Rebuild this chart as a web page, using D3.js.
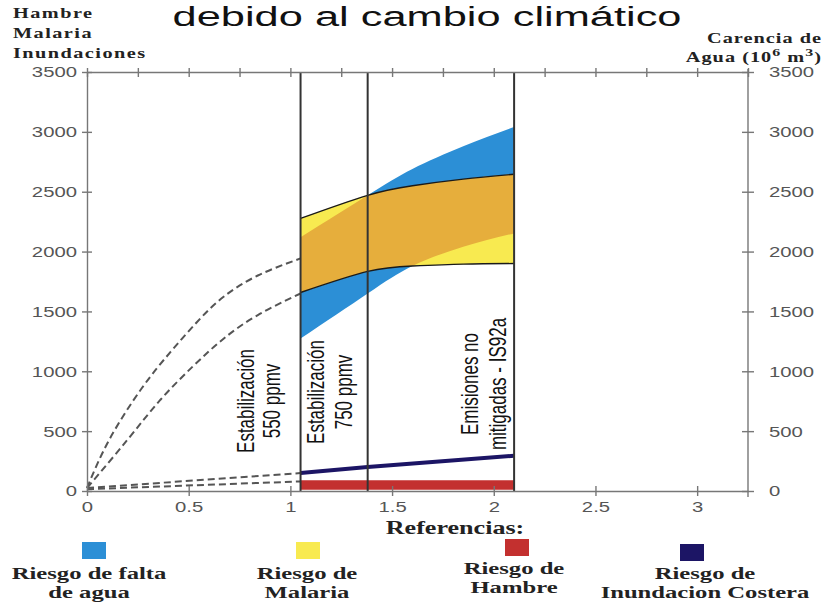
<!DOCTYPE html>
<html>
<head>
<meta charset="utf-8">
<script src="https://cdn.jsdelivr.net/npm/d3@7"></script>
<style>
  body { margin: 0; background: #fff; }
  svg { display: block; }
</style>
</head>
<body>
<script>
// datos
var xTicks = [0, 0.5, 1, 1.5, 2, 2.5, 3];
var topTicks = [0, 0.25, 0.5, 0.75, 1, 1.25, 1.5, 1.75, 2, 2.25, 2.5, 2.75, 3, 3.25];
var yTicks = [0, 500, 1000, 1500, 2000, 2500, 3000, 3500];

var escenariosX = [1.05, 1.38, 2.1];
var escenariosTxt = [["Estabilización", "550 ppmv"], ["Estabilización", "750 ppmv"], ["Emisiones no", "mitigadas - IS92a"]];

var bandaX = [1.05, 1.38, 1.6, 1.85, 2.1];
var aguaBaja = [1273, 1650, 1880, 2040, 2152];
var aguaAlta = [2120, 2470, 2690, 2880, 3040];
var malariaBaja = [1658, 1834, 1880, 1895, 1900];
var malariaAlta = [2277, 2470, 2550, 2605, 2646];

var inundX = [1.05, 1.38, 2.1];
var inundVal = [150, 200, 295];
var hambreX = [1.05, 2.1];
var hambreBaja = [10, 10];
var hambreAlta = [90, 90];

var curvaAltaX = [0, 0.11, 0.27, 0.41, 0.54, 0.67, 0.84, 1.05];
var curvaAltaV = [25, 430, 860, 1160, 1410, 1620, 1800, 1943];
var curvaBajaX = [0, 0.2, 0.36, 0.52, 0.67, 0.84, 1.05];
var curvaBajaV = [25, 430, 760, 1040, 1270, 1470, 1650];
var rectasX = [0, 1.05];
var rectaInund = [25, 150];
var rectaHambre = [15, 80];

var leyNombres = [["Riesgo de falta", "de agua"], ["Riesgo de", "Malaria"], ["Riesgo de", "Hambre"], ["Riesgo de", "Inundacion Costera"]];
var leyColores = ["#2c8fd6", "#f8ea50", "#c3302f", "#1c1565"];

var SX = 1.45; // la imagen original esta estirada en horizontal

var svg = d3.select("body").append("svg")
    .attr("width", 827)
    .attr("height", 603);

var x = d3.scaleLinear().domain([0, 3.25]).range([87, 748]);
var y = d3.scaleLinear().domain([0, 3500]).range([491, 72]);

function zip(xs, ys) { return xs.map(function(v, i) { return [v, ys[i]]; }); }
function zip3(xs, a, b) { return xs.map(function(v, i) { return [v, a[i], b[i]]; }); }

function texto(g, px, py, str, size, fam, weight, anchor, fill, ls, sx) {
  return g.append("text")
    .attr("transform", "translate(" + px + "," + py + ") scale(" + (sx || SX) + ",1)")
    .attr("font-family", fam)
    .attr("font-size", size)
    .attr("font-weight", weight)
    .attr("text-anchor", anchor)
    .attr("letter-spacing", ls || 0)
    .attr("fill", fill)
    .text(str);
}

var serif = "'Liberation Serif', 'Times New Roman', serif";
var sans = "'Liberation Sans', Arial, sans-serif";

var area = d3.area()
    .x(function(d) { return x(d[0]); })
    .y0(function(d) { return y(d[1]); })
    .y1(function(d) { return y(d[2]); })
    .curve(d3.curveNatural);
var linea = d3.line()
    .x(function(d) { return x(d[0]); })
    .y(function(d) { return y(d[1]); })
    .curve(d3.curveNatural);

var agua = zip3(bandaX, aguaBaja, aguaAlta);
var malaria = zip3(bandaX, malariaBaja, malariaAlta);

svg.append("defs").append("clipPath").attr("id", "clipMalaria")
  .append("path").attr("d", area(malaria));

svg.append("path").attr("d", area(agua)).attr("fill", "#2c8fd6");
svg.append("path").attr("d", area(malaria)).attr("fill", "#f8ea50");
svg.append("path").attr("d", area(agua)).attr("fill", "#e6ae3c").attr("clip-path", "url(#clipMalaria)");

svg.append("path").attr("d", linea(zip(bandaX, malariaAlta))).attr("fill", "none").attr("stroke", "#1a1a1a").attr("stroke-width", 1.4);
svg.append("path").attr("d", linea(zip(bandaX, malariaBaja))).attr("fill", "none").attr("stroke", "#1a1a1a").attr("stroke-width", 1.4);

svg.append("path").attr("d", area(zip3(hambreX, hambreBaja, hambreAlta))).attr("fill", "#c3302f");

[zip(curvaAltaX, curvaAltaV), zip(curvaBajaX, curvaBajaV), zip(rectasX, rectaInund), zip(rectasX, rectaHambre)].forEach(function(pts) {
  svg.append("path").attr("d", linea(pts))
    .attr("fill", "none")
    .attr("stroke", "#555")
    .attr("stroke-width", 2)
    .attr("stroke-dasharray", "7,4");
});

svg.append("path").attr("d", linea.curve(d3.curveLinear)(zip(inundX, inundVal)))
  .attr("fill", "none").attr("stroke", "#1c1565").attr("stroke-width", 4);

svg.selectAll("line.esc")
  .data(escenariosX)
  .enter()
  .append("line")
  .attr("class", "esc")
  .attr("x1", function(d) { return x(d); })
  .attr("x2", function(d) { return x(d); })
  .attr("y1", y(3500))
  .attr("y2", y(0))
  .attr("stroke", "#333")
  .attr("stroke-width", 2);

// ejes
function estiloEje(g) {
  g.select(".domain").attr("stroke", "#777").attr("stroke-width", 1.4);
  g.selectAll(".tick line").attr("stroke", "#777").attr("stroke-width", 1.4);
  g.selectAll(".tick text").attr("fill", "#555").attr("font-family", sans).attr("font-size", 14);
}

var ejeIzq = svg.append("g").attr("transform", "translate(" + x(0) + ",0)")
  .call(d3.axisLeft(y).tickValues(yTicks).tickFormat(d3.format("d")).tickSizeOuter(0).tickSize(0));
ejeIzq.selectAll(".tick line").attr("x1", -5).attr("x2", 5);
ejeIzq.selectAll(".tick text").attr("x", 0).attr("dy", "0.35em")
  .attr("transform", "translate(-10,0) scale(" + SX + ",1)");
estiloEje(ejeIzq);

var ejeDer = svg.append("g").attr("transform", "translate(" + x(3.25) + ",0)")
  .call(d3.axisRight(y).tickValues(yTicks).tickFormat(d3.format("d")).tickSizeOuter(0).tickSize(0));
ejeDer.selectAll(".tick line").attr("x1", -6).attr("x2", 6);
ejeDer.selectAll(".tick text").attr("x", 0).attr("dy", "0.35em")
  .attr("transform", "translate(21,0) scale(" + SX + ",1)");
estiloEje(ejeDer);
ejeDer.select(".domain").attr("d", "M0," + (y(3500) - 3) + "V" + (y(0) + 6));

var ejeAbajo = svg.append("g").attr("transform", "translate(0," + y(0) + ")")
  .call(d3.axisBottom(x).tickValues(xTicks).tickFormat(d3.format("")).tickSizeOuter(0).tickSize(0));
ejeAbajo.selectAll(".tick line").attr("y1", -5).attr("y2", 5);
ejeAbajo.selectAll(".tick text").attr("y", 0).attr("dy", 0)
  .attr("transform", "translate(0,21) scale(" + SX + ",1)");
estiloEje(ejeAbajo);

var ejeArriba = svg.append("g").attr("transform", "translate(0," + y(3500) + ")")
  .call(d3.axisTop(x).tickValues(topTicks).tickFormat("").tickSizeOuter(0).tickSize(0));
ejeArriba.selectAll(".tick line").attr("y1", -4).attr("y2", 5);
estiloEje(ejeArriba);

// textos de escenarios (rotados)
var desplaz = [[-47, -21], [-44, -16], [-36, -8]];
var centroY = [401, 392, 384];
escenariosTxt.forEach(function(lns, i) {
  lns.forEach(function(t, j) {
    svg.append("text")
      .attr("transform", "translate(" + (x(escenariosX[i]) + desplaz[i][j]) + "," + centroY[i] + ") scale(" + SX + ",1) rotate(-90)")
      .attr("font-family", sans)
      .attr("font-size", 17)
      .attr("text-anchor", "middle")
      .attr("fill", "#111")
      .text(t);
  });
});

// titulos
texto(svg, 427, 26, "debido al cambio climático", 28, sans, "normal", "middle", "#111", 0, 1.55);
texto(svg, 13, 18, "Hambre", 14, serif, "bold", "start", "#222", 1);
texto(svg, 13, 38, "Malaria", 14, serif, "bold", "start", "#222", 1);
texto(svg, 13, 58, "Inundaciones", 14, serif, "bold", "start", "#222", 1);
texto(svg, 822, 43, "Carencia de", 14, serif, "bold", "end", "#222", 0.7);
var agua2 = texto(svg, 822, 62, "", 14, serif, "bold", "end", "#222", 0.7);
agua2.append("tspan").text("Agua (10");
agua2.append("tspan").attr("dy", -6).attr("font-size", 11).text("6");
agua2.append("tspan").attr("dy", 6).text(" m");
agua2.append("tspan").attr("dy", -6).attr("font-size", 11).text("3");
agua2.append("tspan").attr("dy", 6).text(")");

// leyenda
texto(svg, 455, 534, "Referencias:", 18, serif, "bold", "middle", "#222");
var leyCx = [94, 308, 517, 692];
var leyTx = [89, 307, 514, 705];
var leyY = [542, 542, 539, 544];
var leyBase = [579, 579, 574, 579];
leyColores.forEach(function(c, i) {
  svg.append("rect")
    .attr("x", leyCx[i] - 12).attr("y", leyY[i])
    .attr("width", 24).attr("height", 17)
    .attr("fill", c);
  leyNombres[i].forEach(function(t, j) {
    texto(svg, leyTx[i], leyBase[i] + j * 19, t, 17, serif, "bold", "middle", "#222");
  });
});
</script>
</body>
</html>
